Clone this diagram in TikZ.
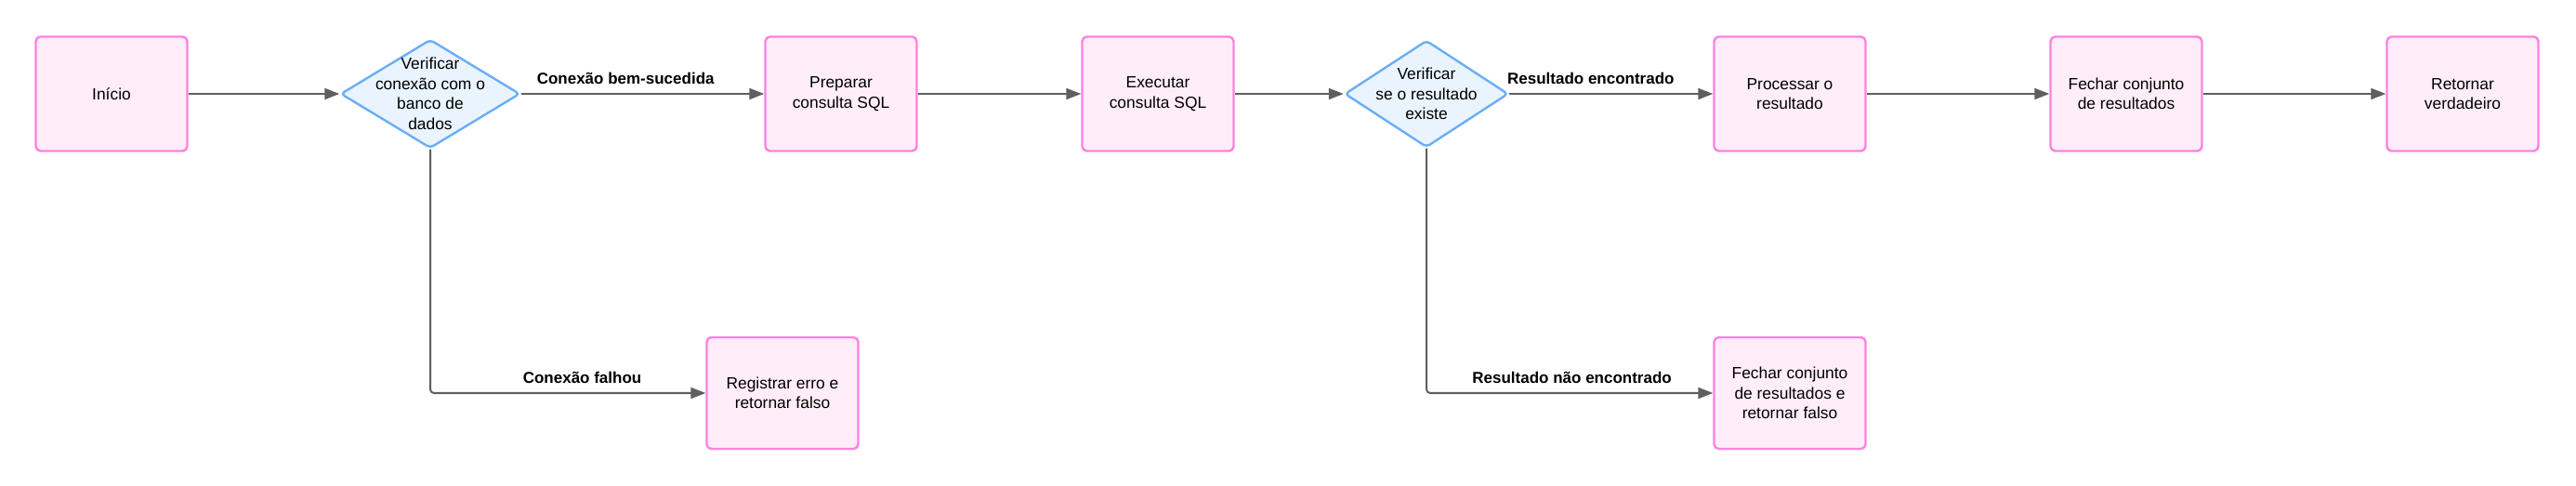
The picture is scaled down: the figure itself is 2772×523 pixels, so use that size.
\documentclass[tikz,border=0pt]{standalone}
\usepackage{fontspec}
\setmainfont{Liberation Sans}
\usetikzlibrary{shapes.geometric,arrows.meta}
\definecolor{boxline}{HTML}{FF80DF}
\definecolor{boxfill}{HTML}{FFEEFA}
\definecolor{decline}{HTML}{6AAEF7}
\definecolor{decfill}{HTML}{EAF4FF}
\definecolor{flowgray}{HTML}{5F5F5F}
\tikzset{
  stepbox/.style={draw=boxline, fill=boxfill, line width=1.2pt, rounded corners=2.5pt,
    minimum width=81.5pt, minimum height=61.5pt, align=center, inner sep=2pt},
  decision/.style={diamond, draw=decline, fill=decfill, line width=1.2pt, rounded corners=2pt,
    minimum width=96.5pt, minimum height=58.5pt, inner sep=0pt},
  dtext/.style={align=center, inner sep=0pt},
  flow/.style={draw=flowgray, line width=1pt, rounded corners=2pt,
    -{Triangle[length=8pt,width=6pt]}},
  lbl/.style={font=\fontsize{8.5pt}{10pt}\selectfont\bfseries, text=black, inner sep=0pt, yshift=8.5pt}
}
\begin{document}
\begin{tikzpicture}[x=0.5pt, y=-0.5pt, font=\fontsize{8.7pt}{10.75pt}\selectfont, line join=round]
		\useasboundingbox (0,0) rectangle (2772,523);
		% linha principal
		\node[stepbox] (inicio) at (120,101) {Início};
		\node[decision, label={[dtext]center:{Verificar\\conexão com o\\banco de\\dados}}] (conexao) at (463,101) {};
		\node[stepbox] (preparar) at (905,101) {Preparar\\consulta SQL};
		\node[stepbox] (executar) at (1246,101) {Executar\\consulta SQL};
		\node[decision, minimum width=88pt, minimum height=57.5pt,
		  label={[dtext]center:{Verificar\\se o resultado\\existe}}] (existe) at (1535,101) {};
		\node[stepbox] (processar) at (1926,101) {Processar o\\resultado};
		\node[stepbox] (fechar) at (2288,101) {Fechar conjunto\\de resultados};
		\node[stepbox] (verdadeiro) at (2650,101) {Retornar\\verdadeiro};
		% ramos de falha
		\node[stepbox, minimum height=60pt] (erro) at (842,423) {Registrar erro e\\retornar falso};
		\node[stepbox, minimum height=60pt] (falso) at (1926,423) {Fechar conjunto\\de resultados e\\retornar falso};
		\draw[flow] (inicio) -- (conexao);
		\draw[flow] (conexao) -- node[lbl, pos=0.43] (lblok) {Conexão bem-sucedida} (preparar);
		\draw[flow] (preparar) -- (executar);
		\draw[flow] (executar) -- (existe);
		\draw[flow] (existe) -- node[lbl, pos=0.40] (lblachou) {Resultado encontrado} (processar);
		\draw[flow] (processar) -- (fechar);
		\draw[flow] (fechar) -- (verdadeiro);
		\draw[flow] (conexao.south) |- node[lbl, pos=0.776] (lblfalha) {Conexão falhou} (erro.west);
		\draw[flow] (existe.south) |- node[lbl, pos=0.754] (lblnaoachou) {Resultado não encontrado} (falso.west);
		\end{tikzpicture}
\end{document}
